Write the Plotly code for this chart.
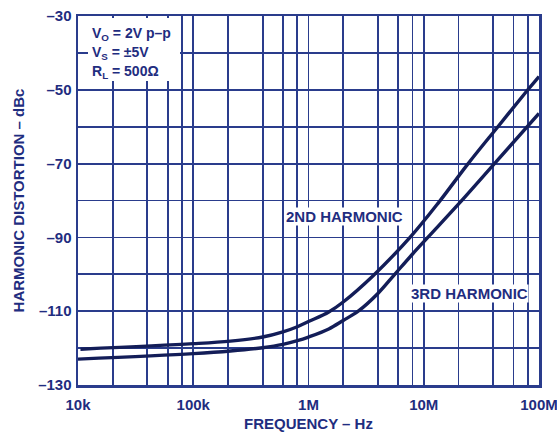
import plotly.graph_objects as go

# Data
freq_2nd = [1.05e4, 1e5, 2.1e5, 4e5, 6e5, 8e5, 1e6, 1.5e6, 2e6, 3.6e6, 7.6e6, 1.35e7, 2.4e7, 4.4e7, 8e7, 1e8]
dbc_2nd = [-120.3, -118.8, -118.1, -117.0, -115.6, -114.2, -112.8, -110.2, -107.5, -100.5, -90.0, -80.5, -70.2, -60.0, -50.0, -46.4]

freq_3rd = [1e4, 1e5, 2.1e5, 4e5, 6e5, 8e5, 1e6, 1.5e6, 2e6, 2.7e6, 4e6, 5.6e6, 8e6, 1.1e7, 2e7, 4e7, 1e8]
dbc_3rd = [-123.0, -121.5, -120.8, -119.9, -119.0, -118.0, -117.0, -114.8, -112.5, -110.0, -105.2, -100.0, -94.5, -89.8, -81.0, -70.4, -56.4]

y_ticks = [-30, -40, -50, -60, -70, -80, -90, -100, -110, -120, -130]
y_labels = ["–30", "", "–50", "", "–70", "", "–90", "", "–110", "", "–130"]

x_grid = [m * 10 ** e for e in range(4, 8) for m in (1, 2, 4, 6, 8)] + [1e8]
x_label_map = {1e4: "10k", 1e5: "100k", 1e6: "1M", 1e7: "10M", 1e8: "100M"}
x_labels = [x_label_map.get(v, "") for v in x_grid]

GRID = "#2a3c8c"
CURVE = "#131d58"
TEXT = "#1f2d80"
FONT = "Liberation Sans"

W, H = 557, 432
ML, MR, MT, MB = 78, 18, 16, 47
PW, PH = W - ML - MR, H - MT - MB


def px(x_screen):
    return (x_screen - ML) / PW


def py(y_screen):
    return (H - MB - y_screen) / PH


fig = go.Figure()
fig.add_trace(go.Scatter(x=freq_2nd, y=dbc_2nd, mode="lines", name="2ND HARMONIC",
                         line=dict(color=CURVE, width=3.4, shape="spline", smoothing=1.0)))
fig.add_trace(go.Scatter(x=freq_3rd, y=dbc_3rd, mode="lines", name="3RD HARMONIC",
                         line=dict(color=CURVE, width=3.4, shape="spline", smoothing=1.0)))

fig.update_layout(
    width=W, height=H,
    margin=dict(l=ML, r=MR, t=MT, b=MB),
    paper_bgcolor="white", plot_bgcolor="white",
    showlegend=False,
    font=dict(family=FONT, size=15, color=TEXT, weight="bold"),
    xaxis=dict(type="log", range=[4, 8], tickmode="array", tickvals=x_grid, ticktext=x_labels,
               automargin=False, ticklabeloverflow="allow",
               showgrid=True, gridcolor=GRID, gridwidth=1.8, zeroline=False,
               showline=True, linecolor=GRID, linewidth=2.5, mirror=True,
               ticks="", ticklabelstandoff=4,
               tickfont=dict(family=FONT, size=15, color=TEXT, weight="bold"),
               title=dict(text="FREQUENCY – Hz", standoff=8,
                          font=dict(family=FONT, size=15, color=TEXT, weight="bold"))),
    yaxis=dict(range=[-130, -30], tickmode="array", tickvals=y_ticks, ticktext=y_labels,
               automargin=False, ticklabeloverflow="allow",
               showgrid=True, gridcolor=GRID, gridwidth=1.8, zeroline=False,
               showline=True, linecolor=GRID, linewidth=2.5, mirror=True,
               ticks="", ticklabelstandoff=1,
               tickfont=dict(family=FONT, size=15, color=TEXT, weight="bold"),
               title=dict(text="HARMONIC DISTORTION – dBc", standoff=10,
                          font=dict(family=FONT, size=15, color=TEXT, weight="bold"))),
)

# white box behind condition text
fig.add_shape(type="rect", xref="paper", yref="paper",
              x0=px(88), x1=px(180), y0=py(81), y1=py(18),
              fillcolor="white", line=dict(width=0), layer="above")

cond = ["V<sub>O</sub> = 2V p–p", "V<sub>S</sub> = ±5V", "R<sub>L</sub> = 500Ω"]
cond_y = [34, 53, 72]
for t, yy in zip(cond, cond_y):
    fig.add_annotation(text=t, xref="paper", yref="paper",
                       x=px(90), y=py(yy),
                       xanchor="left", yanchor="middle", showarrow=False,
                       font=dict(family=FONT, size=14, color=TEXT, weight="bold"))

fig.add_annotation(text="2ND HARMONIC", xref="paper", yref="paper",
                   x=px(344), y=py(216),
                   showarrow=False, xanchor="center", yanchor="middle",
                   bgcolor="white", borderpad=0,
                   font=dict(family=FONT, size=15, color=TEXT, weight="bold"))
fig.add_annotation(text="3RD HARMONIC", xref="paper", yref="paper",
                   x=px(469), y=py(293),
                   showarrow=False, xanchor="center", yanchor="middle",
                   bgcolor="white", borderpad=0,
                   font=dict(family=FONT, size=15, color=TEXT, weight="bold"))

fig.write_html("out.html",
               config={"displayModeBar": False, "staticPlot": True},
               post_script="document.body.style.margin='0';document.body.style.overflow='hidden';")
